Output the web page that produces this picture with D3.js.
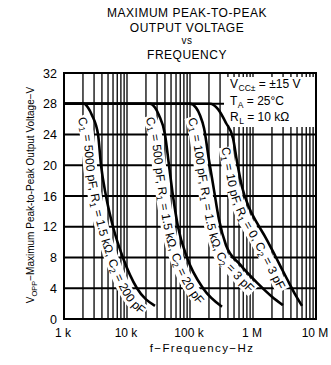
<!DOCTYPE html>
<html><head><meta charset="utf-8">
<script src="https://cdn.jsdelivr.net/npm/d3@7"></script>
<style>
body{margin:0;background:#fff}
svg{display:block}
text{font-family:"Liberation Sans",Arial,Helvetica,"DejaVu Sans",sans-serif;fill:#000}
</style></head><body>
<svg id="c" width="331" height="365"></svg>
<script>
// ---- data ----
const titleLines = ["MAXIMUM PEAK-TO-PEAK", "OUTPUT VOLTAGE", "vs", "FREQUENCY"];
const xTickValues = [1e3, 1e4, 1e5, 1e6, 1e7];
const xTickLabels = ["1 k", "10 k", "100 k", "1 M", "10 M"];
const yTickValues = [0, 4, 8, 12, 16, 20, 24, 28, 32];
const xAxisTitle = "f\u2212Frequency\u2212Hz";
const yAxisTitle = ["V", "OPP", "\u2212Maximum Peak-to-Peak Output Voltage\u2212V"];
const legendLines = [
  ["V", "CC\u00b1", " = \u00b115 V"],
  ["T", "A", " = 25\u00b0C"],
  ["R", "L", " = 10 k\u03a9"]
];
const curve1Freq = [1000, 2080, 2400, 2780, 3470, 3870, 4640, 6000, 8600, 14400, 27800];
const curve1Vopp = [28, 28, 27.5, 26.5, 24, 20, 16, 12, 8, 4, 1.7];
const curve2Freq = [1000, 23200, 27800, 32200, 40100, 46400, 53700, 64500, 89600, 161000, 322000];
const curve2Vopp = [28, 28, 27.5, 26.5, 24, 20, 16, 12, 8, 4, 1.6];
const curve3Freq = [1000, 100000, 124500, 144000, 167000, 200000, 240000, 289000, 373000, 622000, 1200000, 2000000, 2990000];
const curve3Vopp = [28, 28, 27.5, 26.5, 24.8, 20.7, 16.8, 12.9, 9.6, 7.1, 4.6, 2.9, 1.8];
const curve4Freq = [1000, 208000, 278000, 373000, 482000, 557000, 669000, 864000, 1157000, 1610000, 2320000, 3470000, 4820000, 6000000];
const curve4Vopp = [28, 28, 27.3, 25.5, 23.5, 20.5, 17.2, 14.5, 12.5, 10.5, 8.0, 5.2, 3.0, 1.7];
const curveLabels = [
  "C_1 = 5000 pF, R_1 = 1.5 k\u03a9, C_2 = 200 pF",
  "C_1 = 500 pF, R_1 = 1.5 k\u03a9, C_2 = 20 pF",
  "C_1 = 100 pF, R_1 = 1.5 k\u03a9, C_2 = 3 pF",
  "C_1 = 10 pF, R_1 = 0, C_2 = 3 pF"
];

// ---- layout ----
const svg = d3.select("#c");
const x = d3.scaleLog().domain([1e3, 1e7]).range([64, 316]);
const y = d3.scaleLinear().domain([0, 32]).range([319, 73]);

// title
svg.append("g").selectAll("text").data(titleLines).join("text")
  .attr("x", 187).attr("y", (d, i) => [17, 32, 44, 59][i])
  .attr("text-anchor", "middle")
  .attr("font-size", (d, i) => i === 2 ? 10 : 12)
  .attr("letter-spacing", 0.5)
  .text(d => d);

// grid
const minor = [];
for (let k = 3; k < 7; k++) for (let n = 1; n <= 9; n++) { const v = n * Math.pow(10, k); if (v > 1e3) minor.push(v); }
const grid = svg.append("g");
grid.selectAll("line.v").data(minor).join("line").attr("class", "v")
  .attr("x1", d => x(d)).attr("x2", d => x(d)).attr("y1", y(32)).attr("y2", y(0))
  .attr("stroke", "#000").attr("stroke-width", 1.3);
grid.selectAll("line.h").data(yTickValues.filter(v => v > 0 && v < 32)).join("line").attr("class", "h")
  .attr("x1", x(1e3)).attr("x2", x(1e7)).attr("y1", d => y(d)).attr("y2", d => y(d))
  .attr("stroke", "#000").attr("stroke-width", 1.8);

// legend knock-out
svg.append("rect").attr("x", 224).attr("y", y(32)).attr("width", x(1e7) - 224).attr("height", 54).attr("fill", "#fff");
svg.append("g").selectAll("line").data(minor.filter(v => x(v) > 224)).join("line")
  .attr("x1", d => x(d)).attr("x2", d => x(d)).attr("y1", y(32)).attr("y2", y(32) + 4)
  .attr("stroke", "#000").attr("stroke-width", 1.3);

// legend text
const lg = svg.append("g");
legendLines.forEach((L, i) => {
  const t = lg.append("text").attr("x", 230).attr("y", [88, 105, 121][i]).attr("font-size", 12);
  t.append("tspan").text(L[0]);
  t.append("tspan").attr("font-size", 8.5).attr("dy", 3).attr("dx", 0.5).text(L[1]);
  t.append("tspan").attr("dy", -3).text(L[2]);
});

// curves + labels along them
const line = d3.line().x(d => x(d[0])).y(d => y(d[1])).curve(d3.curveMonotoneX);
const curves = [[curve1Freq, curve1Vopp], [curve2Freq, curve2Vopp], [curve3Freq, curve3Vopp], [curve4Freq, curve4Vopp]];
const bandLayer = svg.append("g");
const labelLayer = svg.append("g");
const curveLayer = svg.append("g");
const defs = svg.append("defs");
const smooth = d3.line().curve(d3.curveBasis);
const labelStartV = [27.6, 27.4, 27.0, 22.8];
const labelGap = [15, 14, 13, 13];
const FS = 12;

function offsetPts(node, vStart, d) {
  const L = node.getTotalLength();
  const yStart = y(vStart);
  const off = [];
  let last = [0, 1];
  for (let s = 0; s <= L; s += 2) {
    const q = node.getPointAtLength(s);
    if (q.y < yStart) continue;
    const a = node.getPointAtLength(Math.max(0, s - 14)), b = node.getPointAtLength(Math.min(L, s + 14));
    let dx = b.x - a.x, dy = b.y - a.y; const len = Math.hypot(dx, dy) || 1; dx /= len; dy /= len;
    const o = [q.x - d * dy, q.y + d * dx];
    const prev = off[off.length - 1];
    if (prev && (o[1] - prev[1] < 0.3 || o[0] < prev[0] - 0.3)) continue;
    off.push(o);
    last = [dx, dy];
  }
  const e = off[off.length - 1];
  off.push([e[0] + last[0] * 70, e[1] + last[1] * 70]);
  return off;
}

curves.forEach((c, ci) => {
  const pts = c[0].map((f, i) => [f, c[1][i]]);
  const p = curveLayer.append("path").attr("d", line(pts))
    .attr("fill", "none").attr("stroke", "#000").attr("stroke-width", 2.6);
  const node = p.node();
  const id = "lp" + ci;
  defs.append("path").attr("id", id).attr("d", smooth(offsetPts(node, labelStartV[ci], labelGap[ci])));
  const t = labelLayer.append("text").attr("font-size", FS);
  const tp = t.append("textPath").attr("href", "#" + id);
  curveLabels[ci].split(/_(.)/).forEach((s, i) => {
    if (i % 2 === 1) tp.append("tspan").attr("font-size", 8.5).attr("dy", 2.5).text(s);
    else tp.append("tspan").attr("dy", i === 0 ? 0 : -2.5).text(s);
  });
  const tl = t.node().getComputedTextLength();
  bandLayer.append("path").attr("d", smooth(offsetPts(node, labelStartV[ci], labelGap[ci] - 4)))
    .attr("fill", "none").attr("stroke", "#fff").attr("stroke-width", 14)
    .attr("stroke-dasharray", (tl + 2) + " 2000").attr("stroke-dashoffset", 1);
});

// axis frame
svg.append("rect").attr("x", x(1e3)).attr("y", y(32)).attr("width", x(1e7) - x(1e3)).attr("height", y(0) - y(32))
  .attr("fill", "none").attr("stroke", "#000").attr("stroke-width", 2);

// y ticks
svg.append("g").selectAll("text").data(yTickValues).join("text")
  .attr("x", 57).attr("y", d => y(d) + 4.5).attr("text-anchor", "end").attr("font-size", 12.5)
  .text(d => d);
// x ticks
svg.append("g").selectAll("text").data(xTickValues).join("text")
  .attr("x", d => x(d) - 1).attr("y", 337).attr("text-anchor", "middle").attr("font-size", 12)
  .text((d, i) => xTickLabels[i]);
// axis titles
svg.append("text").attr("x", 202).attr("y", 352).attr("text-anchor", "middle").attr("font-size", 11.5)
  .attr("letter-spacing", 1.4).text(xAxisTitle);
const yt = svg.append("text").attr("transform", "translate(34,195) rotate(-90)").attr("text-anchor", "middle")
  .attr("font-size", 10);
yt.append("tspan").text(yAxisTitle[0]);
yt.append("tspan").attr("font-size", 7.5).attr("dy", 2.5).text(yAxisTitle[1]);
yt.append("tspan").attr("dy", -2.5).text(yAxisTitle[2]);
</script>
</body></html>
